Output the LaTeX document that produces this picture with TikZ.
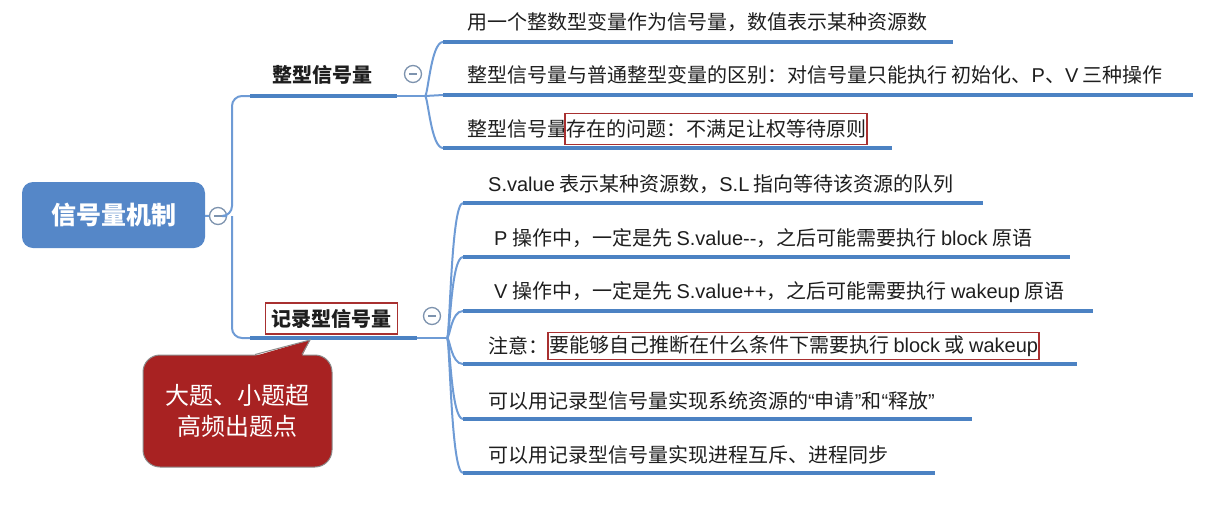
\documentclass[tikz,border=0pt]{standalone}
\usepackage{fontspec}
\setmainfont{Noto Sans CJK SC}
\newfontfamily\lat{Liberation Sans}
\usetikzlibrary{positioning}
\definecolor{rootblue}{HTML}{5587C8}
\definecolor{lineblue}{HTML}{6E9BD5}
\definecolor{barblue}{HTML}{4C82C3}
\definecolor{boxred}{HTML}{A83030}
\definecolor{notered}{HTML}{A82222}
\definecolor{notegray}{HTML}{8C8C8C}
\definecolor{inktext}{HTML}{1E1E1E}
\definecolor{togglegray}{HTML}{7D93AE}
\tikzset{
  rootnode/.style={rounded corners=11pt,fill=rootblue,minimum width=183pt,minimum height=66pt,text=white,font=\fontsize{25}{30}\selectfont\bfseries},
  topic/.style={font=\fontsize{20}{24}\selectfont\bfseries,text=inktext,inner sep=0pt},
  leaf/.style={font=\fontsize{20}{24}\selectfont,text=inktext,inner sep=0pt,anchor=west},
  hlbox/.style={leaf,draw=boxred,line width=1.3pt,inner xsep=1pt,inner ysep=6pt},
  bar/.style={draw=barblue,line width=4.5pt},
  link/.style={draw=lineblue,line width=2pt},
  toggle/.style={circle,draw=togglegray,fill=white,line width=1.3pt,minimum size=17pt,inner sep=0pt,
    path picture={\draw[togglegray,line width=1.4pt] ([xshift=-4pt]path picture bounding box.center)--([xshift=4pt]path picture bounding box.center);}},
  callout/.style={rounded corners=17pt,fill=notered,draw=notegray,line width=1pt,minimum width=189pt,minimum height=112pt,text=white,align=center,font=\fontsize{24}{31}\selectfont}
}
\begin{document}
\begin{tikzpicture}[x=1pt,y=-1pt]
\path[use as bounding box] (0,0) rectangle (1209,509);
% root and trunk
\node[rootnode] (root) at (113.5,215) {信号量机制};
\node[toggle] (tg0) at (218,216) {};
\coordinate (trunk) at (232,216);
\coordinate (s1) at (250,96); \coordinate (e1) at (397,96);
\coordinate (s2) at (250,338); \coordinate (e2) at (417,338);
\draw[link] (root) -- (tg0);
\draw[link,rounded corners=10pt] (tg0) -- (trunk) |- (s1);
\draw[link,rounded corners=10pt] (trunk) |- (s2);
% branch 1
\draw[bar] (s1) -- (e1);
\node[topic] (t1) at (322,75) {整型信号量};
\node[toggle] (tg1) at (413,74) {};
\coordinate (b1) at (425,96);
\coordinate (c11) at (443,42); \coordinate (d11) at (953,42);
\coordinate (c12) at (443,95); \coordinate (d12) at (1193,95);
\coordinate (c13) at (443,148); \coordinate (d13) at (892,148);
\draw[link] (e1) -- (b1);
\draw[link] (b1) .. controls +(3,0) and +(-12,0) .. (c11);
\draw[link] (b1) -- (c12);
\draw[link] (b1) .. controls +(3,0) and +(-12,0) .. (c13);
\draw[bar] (c11) -- (d11); \draw[bar] (c12) -- (d12); \draw[bar] (c13) -- (d13);
\node[leaf] (t11) at (467,22) {用一个整数型变量作为信号量，数值表示某种资源数};
\node[leaf] (t12) at (467,75) {整型信号量与普通整型变量的区别：对信号量只能执行 初始化、{\lat P}、{\lat V} 三种操作};
\node[leaf] (t13) at (467,129) {整型信号量};
\node[hlbox,right=-3pt of t13] (h13) {存在的问题：不满足让权等待原则};
% branch 2
\draw[bar] (s2) -- (e2);
\node[topic,draw=boxred,line width=1.3pt,fill=white,inner xsep=6pt,inner ysep=6pt] (t2) at (331.5,318.5) {记录型信号量};
\node[toggle] (tg2) at (432,316) {};
\coordinate (b2) at (447,338);
\coordinate (c21) at (463,203); \coordinate (d21) at (983,203);
\coordinate (c22) at (463,257); \coordinate (d22) at (1070,257);
\coordinate (c23) at (463,311); \coordinate (d23) at (1093,311);
\coordinate (c24) at (463,364); \coordinate (d24) at (1077,364);
\coordinate (c25) at (463,419); \coordinate (d25) at (972,419);
\coordinate (c26) at (463,473); \coordinate (d26) at (935,473);
\draw[link] (e2) -- (b2);
\draw[link] (b2) .. controls +(3,0) and +(-12,0) .. (c21);
\draw[link] (b2) .. controls +(3,0) and +(-12,0) .. (c22);
\draw[link] (b2) .. controls +(3,0) and +(-12,0) .. (c23);
\draw[link] (b2) .. controls +(3,0) and +(-12,0) .. (c24);
\draw[link] (b2) .. controls +(3,0) and +(-12,0) .. (c25);
\draw[link] (b2) .. controls +(3,0) and +(-12,0) .. (c26);
\draw[bar] (c21) -- (d21); \draw[bar] (c22) -- (d22); \draw[bar] (c23) -- (d23);
\draw[bar] (c24) -- (d24); \draw[bar] (c25) -- (d25); \draw[bar] (c26) -- (d26);
\node[leaf] (t21) at (488,184) {{\lat S.value} 表示某种资源数，{\lat S.L} 指向等待该资源的队列};
\node[leaf] (t22) at (494,238) {{\lat P} 操作中，一定是先 {\lat S.value-{}-}，之后可能需要执行 {\lat block} 原语};
\node[leaf] (t23) at (494,292) {{\lat V} 操作中，一定是先 {\lat S.value++}，之后可能需要执行 {\lat wakeup} 原语};
\node[leaf] (t24) at (488,346) {注意：};
\node[hlbox,inner ysep=3pt,right=-1pt of t24] (h24) {要能够自己推断在什么条件下需要执行 {\lat block} 或 {\lat wakeup}};
\node[leaf] (t25) at (488,401) {可以用记录型信号量实现系统资源的{\lat “}申请{\lat ”}和{\lat “}释放{\lat ”}};
\node[leaf] (t26) at (488,455) {可以用记录型信号量实现进程互斥、进程同步};
% callout
\node[callout] (note) at (237.5,411) {大题、小题超\\高频出题点};
\coordinate (tip) at (310,340);
\fill[notered] ([xshift=17.5pt,yshift=-1.5pt]note.north) -- (tip) -- ([xshift=64.5pt,yshift=-1.5pt]note.north) -- cycle;
\draw[notegray,line width=1pt] ([xshift=17.5pt]note.north) -- (tip) -- ([xshift=64.5pt]note.north);
\end{tikzpicture}
\end{document}
